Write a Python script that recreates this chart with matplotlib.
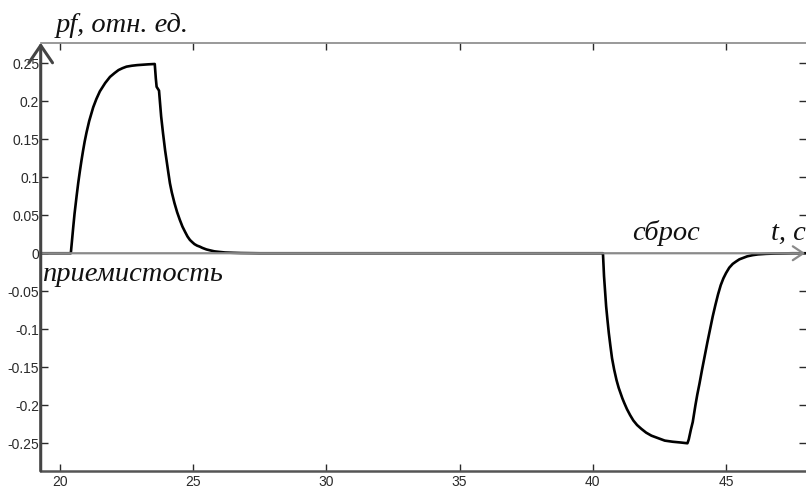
import matplotlib
matplotlib.use("Agg")
import matplotlib.pyplot as plt

# time, s
t = [19.0, 20.41, 20.45, 20.5, 20.55, 20.63, 20.69, 20.75, 20.81, 20.87, 20.93,
     21.0, 21.1, 21.25, 21.37, 21.5, 21.7, 21.88, 22.05, 22.2, 22.35, 22.5, 22.7,
     22.9, 23.1, 23.3, 23.56, 23.6, 23.63, 23.72, 23.8, 23.87, 23.95, 24.0, 24.07,
     24.13, 24.2, 24.3, 24.4, 24.5, 24.6, 24.7, 24.79, 24.88, 24.97, 25.05, 25.15,
     25.25, 25.35, 25.5, 25.65, 25.8, 26.0, 26.2, 26.5, 26.8, 27.5,
     40.38, 40.4, 40.42, 40.46, 40.5, 40.55, 40.6, 40.66, 40.72, 40.8, 40.89,
     40.97, 41.05, 41.11, 41.18, 41.28, 41.4, 41.52, 41.66, 41.82, 42.0, 42.2,
     42.43, 42.7, 43.0, 43.3, 43.55, 43.6, 43.68, 43.75, 43.85, 43.92, 44.0,
     44.1, 44.2, 44.3, 44.4, 44.5, 44.6, 44.7, 44.8, 44.9, 45.0, 45.12, 45.25,
     45.37, 45.5, 45.65, 45.8, 46.0, 46.2, 46.5, 46.8, 47.5, 48.5]
# pf, rel. units
pf = [0.0, 0.0, 0.015, 0.034, 0.052, 0.076, 0.093, 0.108, 0.122, 0.135, 0.147,
      0.159, 0.174, 0.192, 0.203, 0.213, 0.224, 0.232, 0.237, 0.241, 0.2435, 0.2455, 0.2467,
      0.2475, 0.248, 0.2485, 0.249, 0.23, 0.219, 0.214, 0.18, 0.158, 0.135, 0.123, 0.106,
      0.092, 0.08, 0.066, 0.054, 0.044, 0.035, 0.028, 0.022, 0.0175, 0.0145, 0.012, 0.010,
      0.0087, 0.007, 0.005, 0.0037, 0.0025, 0.0017, 0.001, 0.0006, 0.0003, 0.0,
      0.0, -0.015, -0.03, -0.05, -0.07, -0.088, -0.105, -0.122, -0.138, -0.153, -0.167,
      -0.177, -0.185, -0.191, -0.197, -0.205, -0.213, -0.22, -0.226, -0.231, -0.236, -0.24,
      -0.243, -0.2465, -0.248, -0.249, -0.25, -0.245, -0.232, -0.222, -0.20, -0.186, -0.172,
      -0.153, -0.135, -0.117, -0.10, -0.083, -0.068, -0.054, -0.042, -0.033, -0.026, -0.019, -0.014,
      -0.011, -0.008, -0.006, -0.004, -0.0025, -0.0015, -0.0008, -0.0004, 0.0, 0.0]

xticks = [20, 25, 30, 35, 40, 45]
yticks = [0.25, 0.2, 0.15, 0.1, 0.05, 0, -0.05, -0.1, -0.15, -0.2, -0.25]
ylabels = ["0.25", "0.2", "0.15", "0.1", "0.05", "0", "-0.05", "-0.1", "-0.15", "-0.2", "-0.25"]

fig = plt.figure(figsize=(8.06, 4.88), dpi=100)
ax = fig.add_axes([0.0505, 0.0348, 0.9495, 0.8777])

ax.plot(t, pf, color="black", lw=1.9, zorder=3)

ax.set_xlim(19.28, 48.0)
ax.set_ylim(-0.2865, 0.277)
ax.set_xticks(xticks)
ax.set_xticklabels([str(v) for v in xticks])
ax.set_yticks(yticks)
ax.set_yticklabels(ylabels)
ax.tick_params(direction="in", length=5, width=1, colors="#2a2a2a",
               labelsize=10, top=True, right=True)
ax.tick_params(axis="y", pad=1)
ax.tick_params(axis="x", pad=3)
for lab in ax.get_xticklabels() + ax.get_yticklabels():
    lab.set_family("Liberation Sans")

ax.spines["right"].set_visible(False)
ax.spines["left"].set_visible(False)
ax.spines["top"].set_color("#888888")
ax.spines["top"].set_linewidth(1.2)
ax.spines["bottom"].set_color("#555555")
ax.spines["bottom"].set_linewidth(1.8)

# y axis with arrow
ax.annotate("", xy=(0, 1), xytext=(0, 0), xycoords="axes fraction",
            arrowprops=dict(arrowstyle="->,head_length=1.25,head_width=0.85",
                            lw=2.2, color="#444444", shrinkA=0, shrinkB=0,
                            mutation_scale=10),
            annotation_clip=False, zorder=5)
# t axis with arrow along zero
ax.annotate("", xy=(0.999, 0), xytext=(0, 0),
            xycoords=("axes fraction", "data"),
            arrowprops=dict(arrowstyle="->,head_length=0.75,head_width=0.5",
                            lw=1.6, color="#8a8a8a", shrinkA=0, shrinkB=0,
                            mutation_scale=10),
            annotation_clip=False, zorder=4)

txt = dict(family="Liberation Serif", style="italic", fontsize=20.5, color="#111111")
ax.text(19.86, 0.291, "pf, отн. ед.", va="baseline", ha="left", **txt)
ax.text(19.36, -0.036, "приемистость", va="baseline", ha="left", **txt)
ax.text(41.46, 0.0175, "сброс", va="baseline", ha="left", **txt)
ax.text(46.7, 0.0175, "t, с", va="baseline", ha="left", **txt)

fig.savefig("out.png", dpi=100)
